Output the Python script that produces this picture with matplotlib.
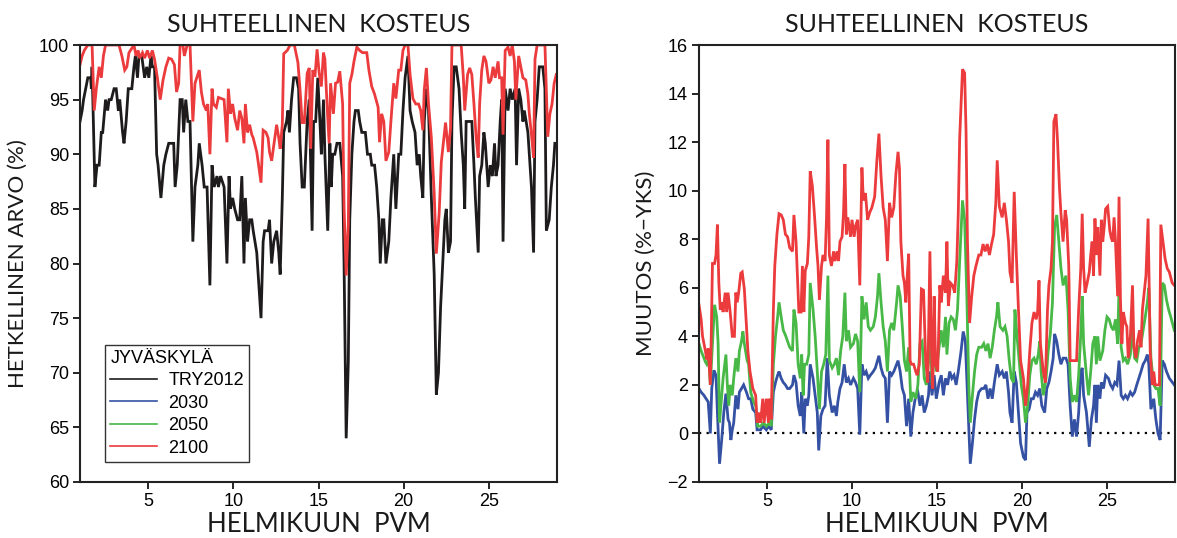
import matplotlib
matplotlib.use("Agg")
import matplotlib.pyplot as plt
from matplotlib.lines import Line2D
import numpy as np

# Hourly relative humidity in February, Jyväskylä: (hour of month, value)
try2012_rh = [
    (0, 93), (3, 94), (5, 95), (8, 96), (11, 97), (15, 97), (16, 96), (17, 98), (21, 87), (24, 89),
    (27, 89), (30, 92), (32, 92), (36, 95), (39, 94), (41, 95), (44, 95), (48, 96), (51, 96), (54, 94),
    (56, 95), (60, 92), (62, 91), (65, 93), (68, 96), (73, 96), (76, 98), (78, 99), (81, 97), (83, 99),
    (87, 99), (91, 97), (94, 98), (97, 97), (100, 99), (102, 98), (105, 98), (108, 90), (110, 89), (114, 86),
    (118, 89), (121, 90), (125, 91), (129, 91), (132, 91), (134, 87), (137, 89), (141, 95), (144, 95), (146, 92),
    (149, 95), (152, 93), (155, 93), (159, 82), (162, 87), (166, 89), (168, 91), (172, 89), (175, 87), (179, 87),
    (183, 78), (186, 89), (189, 87), (193, 88), (195, 87), (198, 88), (203, 87), (207, 80), (210, 88), (212, 85),
    (215, 86), (218, 85), (222, 84), (225, 84), (228, 88), (231, 80), (233, 86), (236, 82), (239, 84), (242, 84),
    (244, 83), (249, 81), (252, 78), (255, 75), (258, 82), (260, 83), (265, 83), (267, 84), (270, 80), (273, 82),
    (277, 83), (280, 81), (282, 79), (285, 86), (287, 92), (291, 93), (293, 94), (295, 92), (298, 95), (301, 97),
    (305, 97), (308, 96), (310, 91), (313, 87), (316, 87), (320, 93), (323, 95), (327, 83), (329, 93), (332, 93),
    (335, 97), (338, 93), (340, 90), (343, 95), (345, 90), (349, 83), (352, 91), (354, 87), (356, 90), (359, 90),
    (362, 91), (366, 91), (370, 88), (372, 80), (375, 64), (378, 71), (380, 84), (383, 90), (386, 93), (388, 94),
    (392, 94), (394, 93), (397, 92), (402, 92), (405, 90), (409, 90), (411, 89), (415, 89), (418, 87), (421, 84),
    (423, 80), (426, 84), (428, 84), (431, 80), (435, 82), (438, 86), (442, 90), (445, 85), (449, 90), (452, 90),
    (455, 94), (458, 97), (462, 99), (465, 94), (468, 93), (472, 92), (475, 89), (478, 90), (480, 88), (483, 86),
    (485, 93), (488, 96), (491, 94), (495, 86), (499, 79), (502, 68), (505, 70), (508, 76), (511, 80), (514, 84),
    (516, 85), (519, 81), (522, 82), (524, 93), (527, 98), (530, 98), (534, 96), (537, 92), (540, 89), (542, 85),
    (544, 93), (549, 93), (552, 93), (555, 89), (557, 86), (561, 81), (563, 88), (566, 89), (569, 92), (571, 91),
    (575, 87), (578, 89), (581, 88), (584, 91), (586, 88), (589, 89), (592, 93), (594, 95), (596, 82), (599, 96),
    (603, 94), (606, 96), (609, 95), (613, 96), (615, 89), (618, 96), (621, 95), (624, 93), (626, 94), (631, 92),
    (633, 90), (636, 87), (639, 81), (641, 93), (644, 95), (647, 98), (652, 98), (655, 96), (657, 83), (661, 84),
    (664, 87), (667, 89), (669, 91),
]

rh_2100 = [
    (0, 98.2), (3, 99), (6, 99.5), (11, 100), (17, 100), (20, 94), (23, 96), (27, 98), (30, 97), (33, 99),
    (36, 100), (41, 100), (49, 100), (55, 100), (59, 99), (63, 97.7), (66, 98), (69, 99.3), (72, 99.6), (76, 100),
    (79, 99), (82, 99.5), (84, 98.8), (88, 99.3), (91, 98.8), (95, 99.5), (98, 98.8), (102, 99.5), (105, 98.7), (109, 97),
    (113, 95), (117, 96.8), (121, 98), (125, 98.8), (129, 98.7), (133, 98.2), (136, 95.7), (139, 96.5), (141, 100), (145, 100),
    (147, 99), (151, 100), (155, 100), (159, 93), (162, 96.5), (166, 97.3), (168, 97.7), (171, 95.7), (174, 94.6), (178, 94),
    (180, 94.6), (183, 90), (186, 96), (188, 94.6), (192, 94.3), (195, 95.2), (199, 95.1), (203, 95), (207, 91.1), (209, 96),
    (212, 93.7), (215, 94.6), (218, 93.3), (222, 92.2), (225, 94), (228, 93.3), (231, 91), (233, 94.6), (236, 92), (239, 92.7),
    (242, 91.8), (244, 91.5), (249, 90.2), (251, 89.3), (255, 87.4), (258, 92.2), (262, 92), (265, 91.5), (267, 90.2), (270, 89.4),
    (273, 90.8), (277, 92.7), (280, 91.5), (282, 90.5), (285, 92.7), (287, 99.2), (292, 99.5), (296, 100), (302, 100), (307, 98.4),
    (310, 95.9), (313, 92.9), (316, 92.9), (320, 97.4), (323, 97.9), (325, 90.5), (328, 97.7), (331, 97.1), (334, 99.6), (337, 97.4),
    (340, 96.2), (343, 99.3), (345, 98.7), (348, 94.6), (351, 91), (353, 96.5), (357, 93.7), (360, 96.5), (363, 96.6), (366, 97.6),
    (370, 94.6), (372, 85.2), (375, 78.9), (378, 83.6), (380, 96.5), (383, 97.3), (386, 98.5), (390, 99.8), (394, 99.5), (398, 99.3),
    (404, 99.3), (407, 97.7), (411, 96.2), (415, 95.5), (420, 94.3), (422, 91.1), (425, 93.7), (428, 93), (431, 89.4), (435, 90.2),
    (438, 93), (442, 96.5), (445, 95.1), (449, 97.7), (452, 97.7), (455, 99.5), (458, 100), (462, 100), (465, 97.3), (469, 95.1),
    (473, 94.6), (477, 94.6), (480, 94), (483, 92.2), (485, 95.9), (488, 97.9), (491, 94.6), (495, 91.5), (499, 86.4), (502, 80.9),
    (506, 84.6), (509, 89.3), (512, 91.1), (515, 92.9), (519, 90.2), (522, 92.4), (524, 100), (537, 100), (540, 97.1), (542, 94),
    (546, 97.3), (549, 97.9), (552, 97.3), (555, 94.6), (558, 91.6), (561, 89.7), (563, 94.6), (566, 97.7), (569, 99), (572, 98.5),
    (576, 96.5), (579, 96.8), (582, 98), (585, 97), (589, 98.5), (591, 97), (594, 97), (596, 91.8), (599, 99.5), (603, 99.8),
    (606, 99), (609, 100), (612, 98.5), (614, 95), (618, 99), (621, 98), (624, 97), (628, 96.8), (631, 95.5), (633, 93.7),
    (636, 91.8), (639, 89.7), (641, 98.7), (644, 100), (655, 100), (659, 91.6), (662, 93.7), (665, 94.6), (668, 96.5), (671, 97.3),
]

# Change from TRY2012 (percentage points)
chg_2030 = [
    (0, 1.85), (3, 1.7), (7, 1.57), (10, 1.43), (13, 1.3), (16, 0.0), (18, 1.85), (21, 2.6), (24, 2.4), (26, 0.86),
    (29, -1.25), (32, -0.27), (35, 0.86), (38, 1.64), (41, 0.58), (43, 0.44), (45, -0.27), (47, 0.15), (49, 0.44), (52, 1.57),
    (55, 1.0), (57, 1.7), (60, 1.85), (63, 2.0), (67, 1.7), (70, 1.43), (73, 1.43), (76, 1.0), (80, 0.86), (82, 0.15),
    (87, 0.15), (90, 0.3), (95, 0.15), (98, 0.3), (102, 0.15), (105, 1.7), (108, 2.1), (111, 2.4), (113, 2.55), (116, 2.27),
    (119, 2.1), (122, 2.0), (125, 1.85), (128, 1.85), (132, 2.0), (134, 2.4), (137, 2.1), (140, 1.14), (143, 0.72), (145, 1.7),
    (148, 0.0), (150, 1.43), (153, 1.14), (155, 1.57), (157, 2.85), (161, 2.27), (164, 1.57), (167, 0.86), (169, -0.7), (172, 0.72),
    (175, 1.0), (178, 1.14), (181, 3.1), (184, 1.57), (188, 0.86), (191, 1.14), (194, 0.72), (196, 1.3), (199, 1.85), (202, 2.1),
    (205, 2.85), (208, 2.1), (211, 2.27), (214, 2.0), (218, 2.27), (221, 2.1), (224, 1.85), (227, -0.05), (230, 2.85), (233, 2.4),
    (236, 2.55), (239, 2.27), (242, 2.4), (246, 2.55), (249, 2.7), (252, 3.0), (254, 3.2), (257, 2.7), (260, 2.4), (263, 2.27),
    (266, 0.44), (269, 2.55), (272, 2.4), (275, 2.55), (279, 2.85), (281, 3.0), (284, 2.55), (287, 1.85), (290, 1.57), (293, 0.3),
    (296, 1.43), (299, -0.13), (302, 0.86), (306, 1.57), (309, 1.7), (312, 1.14), (315, 1.57), (318, 0.86), (321, 1.14), (324, 1.57),
    (326, 2.55), (329, 1.57), (332, 2.4), (335, 1.43), (339, 2.1), (342, 2.4), (345, 1.57), (348, 2.27), (351, 2.0), (354, 2.55),
    (357, 2.27), (360, 2.4), (363, 2.0), (366, 2.55), (370, 3.4), (373, 4.2), (376, 3.8), (379, 1.57), (381, 0.15), (383, -1.25),
    (386, -0.4), (389, 0.58), (392, 1.3), (395, 1.7), (399, 1.85), (402, 1.85), (405, 2.0), (408, 1.43), (411, 1.85), (414, 1.43),
    (417, 2.1), (421, 2.85), (424, 2.4), (428, 2.55), (431, 2.27), (434, 2.55), (437, 1.7), (439, 0.86), (442, 0.44), (445, 2.55),
    (448, 2.1), (451, 0.86), (454, -0.4), (458, -0.97), (461, -1.1), (463, 0.86), (466, 1.0), (469, 1.43), (472, 1.43), (475, 1.7),
    (478, 1.57), (481, 1.85), (484, 1.14), (488, 0.86), (491, 1.85), (494, 2.1), (497, 2.55), (500, 3.1), (502, 4.1), (505, 3.8),
    (508, 3.25), (511, 2.85), (514, 3.1), (518, 3.1), (521, 2.85), (524, 1.14), (527, -0.13), (530, 0.58), (533, -0.13), (536, 0.86),
    (539, 2.55), (541, 2.7), (543, 1.57), (547, 0.86), (551, -0.55), (554, 0.58), (557, 1.14), (559, 2.0), (561, 0.44), (563, 2.0),
    (566, 1.43), (568, 2.1), (571, 1.85), (574, 2.4), (578, 2.27), (581, 2.0), (584, 1.85), (587, 2.1), (590, 2.0), (593, 3.0),
    (596, 1.57), (599, 1.43), (602, 1.57), (605, 1.43), (609, 1.7), (612, 1.57), (615, 1.7), (618, 2.0), (621, 2.27), (624, 2.55),
    (627, 2.85), (630, 3.0), (633, 3.25), (635, 2.85), (638, 1.0), (642, 1.43), (645, 0.58), (648, 0.0), (651, -0.27), (654, 3.0),
    (657, 2.85), (660, 2.55), (664, 2.27), (671, 2.0),
]

chg_2050 = [
    (0, 3.7), (3, 3.4), (5, 3.25), (9, 2.95), (11, 2.85), (14, 3.1), (16, 2.0), (19, 3.7), (22, 5.3), (25, 4.8),
    (27, 3.7), (29, 0.44), (32, 1.57), (34, 2.27), (38, 3.25), (40, 2.0), (42, 1.14), (44, 2.0), (47, 1.57), (49, 2.27),
    (52, 3.1), (55, 2.55), (57, 3.4), (60, 3.8), (62, 4.2), (64, 3.7), (68, 3.0), (70, 2.85), (73, 1.7), (77, 1.3),
    (80, 1.14), (83, 0.3), (87, 0.3), (91, 0.44), (95, 0.3), (100, 0.44), (102, 0.3), (105, 2.85), (108, 4.0), (111, 4.8),
    (113, 5.4), (116, 4.8), (119, 4.25), (122, 4.05), (125, 3.8), (128, 3.55), (132, 3.4), (134, 5.1), (137, 4.55), (140, 2.85),
    (143, 2.27), (145, 3.25), (147, 1.57), (149, 2.85), (152, 2.85), (155, 3.25), (157, 6.2), (161, 5.1), (164, 4.0), (167, 2.55),
    (170, 1.0), (173, 2.55), (176, 2.85), (179, 3.25), (182, 6.5), (184, 3.0), (188, 2.7), (191, 2.85), (194, 3.1), (197, 2.4),
    (200, 3.4), (203, 4.0), (206, 5.8), (208, 3.8), (211, 4.25), (214, 3.55), (218, 3.7), (221, 4.1), (224, 3.8), (227, 1.7),
    (230, 5.65), (233, 4.7), (236, 5.4), (239, 4.4), (242, 4.25), (246, 4.4), (249, 4.8), (252, 5.65), (254, 6.6), (257, 5.4),
    (260, 4.4), (263, 3.8), (266, 2.55), (269, 4.25), (272, 4.55), (275, 4.25), (279, 5.4), (281, 6.1), (284, 5.65), (287, 4.4),
    (290, 3.0), (293, 2.55), (296, 3.55), (299, 1.3), (302, 1.7), (306, 1.43), (309, 2.0), (312, 3.7), (315, 3.8), (318, 2.27),
    (321, 2.0), (324, 3.0), (326, 4.7), (329, 2.0), (332, 3.7), (335, 2.55), (339, 3.55), (342, 4.25), (345, 3.55), (348, 4.8),
    (350, 3.25), (353, 4.55), (356, 4.8), (359, 4.7), (362, 4.25), (365, 5.1), (368, 7.1), (372, 9.6), (375, 8.8), (378, 5.8),
    (381, 1.85), (383, 0.44), (386, 1.57), (389, 2.55), (392, 3.25), (395, 3.55), (399, 3.55), (402, 3.7), (405, 3.4), (408, 3.7),
    (411, 3.1), (414, 3.55), (417, 4.25), (420, 4.8), (422, 5.4), (425, 4.4), (429, 4.25), (432, 4.4), (435, 4.0), (438, 3.0),
    (441, 2.27), (444, 2.1), (446, 5.1), (449, 4.0), (452, 3.0), (455, 2.0), (458, 1.43), (461, 0.44), (464, 1.14), (467, 2.4),
    (470, 3.0), (473, 3.1), (476, 2.85), (479, 3.25), (481, 3.8), (483, 2.55), (486, 1.57), (490, 2.27), (493, 3.4), (496, 4.1),
    (499, 5.4), (502, 8.5), (505, 9.0), (508, 7.9), (511, 6.8), (514, 6.1), (518, 6.5), (521, 5.1), (524, 2.27), (527, 1.3),
    (530, 1.57), (533, 1.3), (536, 2.4), (539, 4.1), (541, 5.65), (543, 3.7), (547, 2.4), (550, 1.57), (553, 2.55), (556, 3.7),
    (559, 4.0), (561, 2.85), (563, 4.0), (566, 3.0), (570, 3.4), (573, 4.25), (576, 4.8), (579, 4.7), (582, 4.4), (585, 4.25),
    (588, 4.7), (591, 3.7), (593, 6.1), (596, 3.55), (599, 3.0), (602, 3.1), (605, 2.85), (609, 3.25), (612, 4.4), (615, 3.1),
    (618, 3.0), (621, 3.55), (624, 3.7), (627, 4.25), (630, 4.8), (633, 5.4), (635, 6.0), (638, 3.1), (642, 2.0), (645, 1.85),
    (648, 1.85), (651, 1.14), (654, 6.2), (657, 6.1), (660, 5.5), (663, 5.1), (666, 4.8), (671, 4.25),
]

chg_2100 = [
    (0, 5.3), (3, 4.7), (5, 4.0), (9, 3.4), (11, 3.05), (13, 3.5), (16, 2.0), (17, 3.5), (19, 7.0), (22, 7.0),
    (24, 7.35), (26, 8.6), (28, 6.2), (30, 5.1), (32, 5.4), (34, 5.0), (37, 5.8), (39, 5.0), (41, 5.8), (44, 5.0),
    (47, 4.0), (50, 4.0), (52, 5.8), (54, 5.4), (56, 5.8), (59, 6.6), (61, 6.65), (64, 5.95), (67, 4.4), (69, 3.4),
    (72, 2.55), (76, 1.85), (80, 1.57), (82, 0.44), (85, 0.86), (87, 0.44), (90, 1.43), (92, 0.44), (95, 1.43), (98, 0.44),
    (99, 1.43), (102, 0.58), (105, 5.1), (107, 6.9), (110, 8.2), (113, 9.05), (116, 9.0), (119, 8.8), (122, 8.2), (125, 8.1),
    (128, 7.65), (132, 7.5), (134, 9.0), (137, 7.9), (139, 6.5), (141, 5.0), (144, 5.0), (146, 6.9), (148, 5.0), (150, 6.7),
    (153, 7.0), (155, 8.1), (157, 10.8), (160, 10.2), (163, 9.0), (166, 7.65), (168, 6.9), (170, 5.5), (173, 6.9), (175, 7.35),
    (178, 7.1), (180, 8.85), (182, 12.1), (184, 7.35), (187, 6.9), (190, 7.5), (192, 7.1), (195, 7.5), (197, 7.1), (199, 7.9),
    (202, 8.1), (204, 9.05), (206, 11.1), (208, 8.2), (210, 8.9), (214, 8.1), (216, 8.8), (219, 8.1), (221, 8.55), (224, 8.8),
    (227, 6.1), (230, 10.95), (232, 9.6), (235, 9.9), (238, 8.8), (241, 9.1), (244, 9.3), (248, 9.75), (251, 11.2), (254, 12.35),
    (257, 10.6), (260, 9.3), (263, 8.8), (266, 7.1), (269, 9.5), (272, 8.9), (275, 9.3), (278, 10.7), (281, 11.6), (283, 10.9),
    (285, 7.9), (288, 6.5), (290, 6.2), (292, 5.4), (294, 6.5), (296, 7.4), (298, 3.0), (300, 2.85), (303, 2.85), (306, 2.55),
    (308, 2.4), (311, 2.85), (314, 5.95), (317, 5.9), (320, 3.0), (323, 2.1), (326, 7.5), (328, 3.7), (330, 1.85), (332, 5.65),
    (334, 2.85), (337, 2.55), (340, 6.1), (342, 5.4), (345, 6.5), (348, 5.8), (350, 7.9), (352, 5.25), (355, 6.2), (358, 6.1),
    (361, 5.8), (364, 7.1), (366, 9.05), (368, 12.15), (372, 15.0), (375, 14.85), (377, 12.45), (379, 7.9), (382, 4.55), (385, 5.65),
    (388, 6.5), (391, 6.9), (395, 7.35), (398, 7.35), (401, 7.8), (404, 7.5), (407, 7.8), (410, 7.35), (413, 7.8), (416, 8.2),
    (419, 9.5), (421, 11.25), (424, 9.35), (428, 8.9), (431, 9.5), (434, 8.8), (437, 7.9), (439, 6.65), (442, 6.2), (445, 9.95),
    (448, 7.35), (451, 5.1), (454, 3.0), (458, 2.27), (461, 1.14), (464, 2.0), (467, 3.4), (470, 4.55), (473, 5.0), (476, 4.7),
    (478, 5.0), (480, 6.3), (482, 3.7), (486, 2.55), (489, 2.1), (492, 5.1), (494, 6.1), (497, 6.8), (499, 7.9), (501, 12.85),
    (504, 13.15), (506, 12.15), (509, 10.05), (511, 9.05), (514, 7.9), (517, 9.2), (519, 8.8), (522, 6.9), (524, 3.0), (533, 3.0),
    (536, 5.1), (539, 6.8), (541, 9.05), (543, 6.8), (545, 5.8), (548, 6.2), (551, 6.65), (553, 7.35), (555, 7.9), (557, 6.5),
    (559, 8.85), (561, 7.35), (563, 8.5), (566, 6.5), (568, 8.8), (570, 7.9), (572, 8.5), (574, 9.25), (577, 9.35), (580, 8.35),
    (582, 8.05), (584, 7.9), (586, 8.9), (588, 7.9), (591, 5.65), (593, 9.75), (595, 5.5), (597, 3.7), (599, 5.0), (602, 4.55),
    (604, 4.4), (606, 3.1), (609, 4.0), (612, 6.1), (614, 3.55), (617, 3.1), (619, 3.8), (622, 4.25), (624, 3.55), (626, 5.1),
    (629, 5.95), (631, 6.5), (634, 8.85), (637, 3.4), (640, 2.0), (642, 2.55), (644, 2.0), (650, 2.0), (652, 8.6), (655, 7.9),
    (658, 7.2), (661, 6.8), (664, 6.65), (668, 6.2), (671, 6.1),
]

legend_title = "JYVÄSKYLÄ"
series_labels = ["TRY2012", "2030", "2050", "2100"]
day_ticks = [5, 10, 15, 20, 25]
rh_ticks = [60, 65, 70, 75, 80, 85, 90, 95, 100]
chg_ticks = [-2, 0, 2, 4, 6, 8, 10, 12, 14, 16]

COL_BLACK = "#1e1b1c"
COL_BLUE = "#3551a3"
COL_GREEN = "#48b847"
COL_RED = "#ec3b3d"
LW = 2.0

LABEL_FONT = dict(family=["Lato", "DejaVu Sans"], weight="normal", color="#1a1a1a")
TICK_FONT = ["Liberation Sans", "DejaVu Sans"]


def as_days(series):
    hours, values = zip(*series)
    return 1 + np.asarray(hours) / 24.0, np.asarray(values)


plt.rcParams["font.family"] = TICK_FONT
fig = plt.figure(figsize=(11.77, 5.38), dpi=100)
W, H = 1177.0, 538.0
ax1 = fig.add_axes([80 / W, (H - 482) / H, 477 / W, 437 / H])
ax2 = fig.add_axes([699 / W, (H - 482) / H, 476 / W, 437 / H])

x, y = as_days(try2012_rh)
ax1.plot(x, y, color=COL_BLACK, lw=LW, solid_joinstyle="miter")
x, y = as_days(rh_2100)
ax1.plot(x, y, color=COL_RED, lw=LW, solid_joinstyle="miter")
ax1.set_ylim(60, 100)
ax1.set_yticks(rh_ticks)
ax1.set_ylabel("HETKELLINEN ARVO (%)", fontsize=16, labelpad=8, **LABEL_FONT)

handles = [Line2D([], [], color=c, lw=1.2)
           for c in (COL_BLACK, COL_BLUE, COL_GREEN, COL_RED)]
leg = ax1.legend(handles, series_labels, title=legend_title, loc="lower left",
                 bbox_to_anchor=(25 / 477, 20 / 437), fontsize=13,
                 title_fontproperties={"size": 13}, alignment="left",
                 frameon=True, fancybox=False, edgecolor="black",
                 handlelength=2.6, handletextpad=0.6, labelspacing=0.3,
                 borderpad=0.3, borderaxespad=0)
leg.get_frame().set_linewidth(1.0)

ax2.axhline(0, color="black", lw=1.6, ls=(0, (1, 2.4)), zorder=1)
for series, col in ((chg_2030, COL_BLUE), (chg_2050, COL_GREEN), (chg_2100, COL_RED)):
    x, y = as_days(series)
    ax2.plot(x, y, color=col, lw=LW, solid_joinstyle="miter", zorder=2)
ax2.set_ylim(-2, 16)
ax2.set_yticks(chg_ticks)
ax2.set_yticklabels(["\u22122" if t < 0 else str(t) for t in chg_ticks])
ax2.set_ylabel("MUUTOS (%\u2212YKS)", fontsize=16, labelpad=8, **LABEL_FONT)

for ax in (ax1, ax2):
    ax.set_xlim(1, 29)
    ax.set_xticks(day_ticks)
    ax.set_title("SUHTEELLINEN  KOSTEUS", fontsize=18, pad=9, **LABEL_FONT)
    ax.set_xlabel("HELMIKUUN  PVM", fontsize=18.5, labelpad=1, **LABEL_FONT)
    ax.tick_params(direction="out", length=5, width=1.2, labelsize=13, pad=3)
    for s in ax.spines.values():
        s.set_linewidth(1.5)
        s.set_color("#222222")

fig.savefig("out.png", dpi=100)
